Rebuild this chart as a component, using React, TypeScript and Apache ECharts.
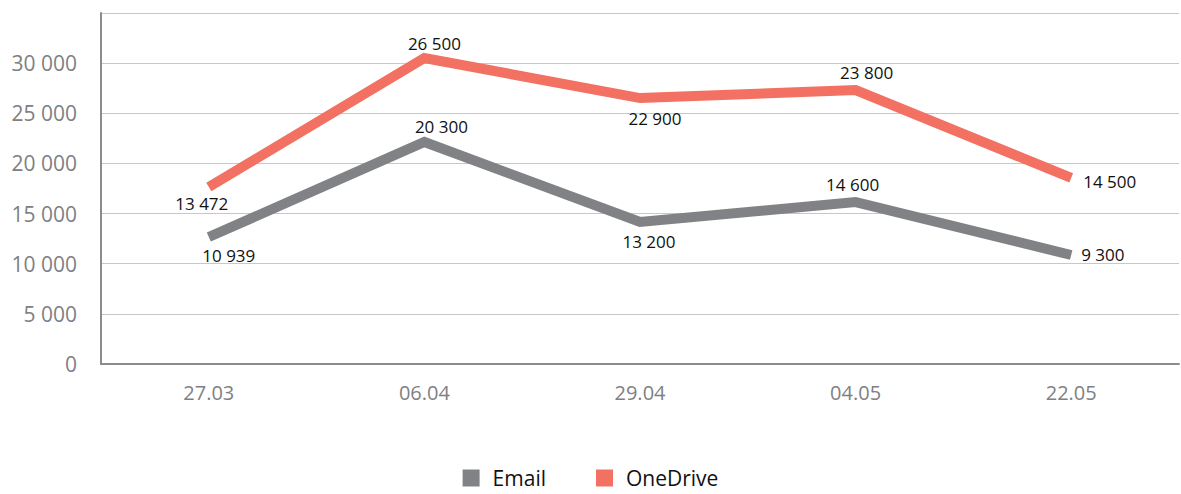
import React, { useEffect, useRef } from "react";
import * as echarts from "echarts";

const categories = ["27.03", "06.04", "29.04", "04.05", "22.05"];
const emailValues = [12660, 22140, 14160, 16150, 10870];
const oneDriveValues = [17650, 30510, 26520, 27320, 18550];
const emailLabels = ["10 939", "20 300", "13 200", "14 600", "9 300"];
const oneDriveLabels = ["13 472", "26 500", "22 900", "23 800", "14 500"];
const labelPositions = ["bottom", "top", "bottom", "top", "right"];

// label nudges (layout only) [dx, dy]
const emailLabelNudge = [[20, 2], [17, 1], [9, 3], [-3, -1], [0, 0]];
const oneDriveLabelNudge = [[-7, 0], [10, 2], [15, 4], [11, -1], [2, 4]];

const GRAY = "#818285";
const ORANGE = "#F27162";
const FONT = "Open Sans";

function fmt(v: number) {
  return String(v).replace(/\B(?=(\d{3})+(?!\d))/g, " ");
}

function seriesData(values: number[], labels: string[], nudge: number[][]) {
  return values.map((v, i) => ({
    value: v,
    label: {
      show: true,
      position: labelPositions[i],
      distance: labelPositions[i] === "right" ? 10 : 8,
      offset: nudge[i],
      formatter: labels[i],
    },
  }));
}

export default function App() {
  const ref = useRef<HTMLDivElement>(null);
  useEffect(() => {
    if (!ref.current) return;
    const chart = echarts.init(ref.current, null, { renderer: "svg" });
    chart.setOption({
      animation: false,
      textStyle: { fontFamily: FONT },
      grid: { left: 101, right: 2, top: 13, bottom: 130, containLabel: false },
      legend: {
        top: 466,
        left: "center",
        padding: 0,
        itemWidth: 17,
        itemHeight: 17,
        itemGap: 50,
        icon: "rect",
        textStyle: { fontSize: 21, lineHeight: 24, color: "#111", fontFamily: FONT, padding: [0, 0, 0, 8] },
        data: ["Email", "OneDrive"],
      },
      xAxis: {
        type: "category",
        data: categories,
        boundaryGap: true,
        axisLine: { lineStyle: { color: "#8c8c8e", width: 2 } },
        axisTick: { show: false },
        axisLabel: { color: "#808083", fontSize: 20, margin: 18, fontFamily: FONT },
      },
      yAxis: {
        type: "value",
        min: 0,
        max: 35000,
        interval: 5000,
        axisLine: { show: true, lineStyle: { color: "#8c8c8e", width: 2 } },
        axisTick: { show: false },
        splitLine: { lineStyle: { color: "#c8c8c8", width: 1 } },
        axisLabel: {
          color: "#808083",
          fontSize: 21,
          margin: 24,
          fontFamily: FONT,
          formatter: (v: number) => (v === 35000 ? "" : fmt(v)),
        },
      },
      series: [
        {
          name: "Email",
          type: "line",
          data: seriesData(emailValues, emailLabels, emailLabelNudge),
          symbol: "circle",
          symbolSize: 0,
          lineStyle: { color: GRAY, width: 10, cap: "butt", join: "miter" },
          itemStyle: { color: GRAY },
          label: { color: "#111", fontSize: 17, fontFamily: FONT },
        },
        {
          name: "OneDrive",
          type: "line",
          data: seriesData(oneDriveValues, oneDriveLabels, oneDriveLabelNudge),
          symbol: "circle",
          symbolSize: 0,
          lineStyle: { color: ORANGE, width: 10, cap: "butt", join: "miter" },
          itemStyle: { color: ORANGE },
          label: { color: "#111", fontSize: 17, fontFamily: FONT },
        },
      ],
    });
    return () => chart.dispose();
  }, []);
  return (
    <div
      ref={ref}
      style={{ position: "fixed", left: 0, top: 0, width: 1181, height: 494, background: "#fff" }}
    />
  );
}
